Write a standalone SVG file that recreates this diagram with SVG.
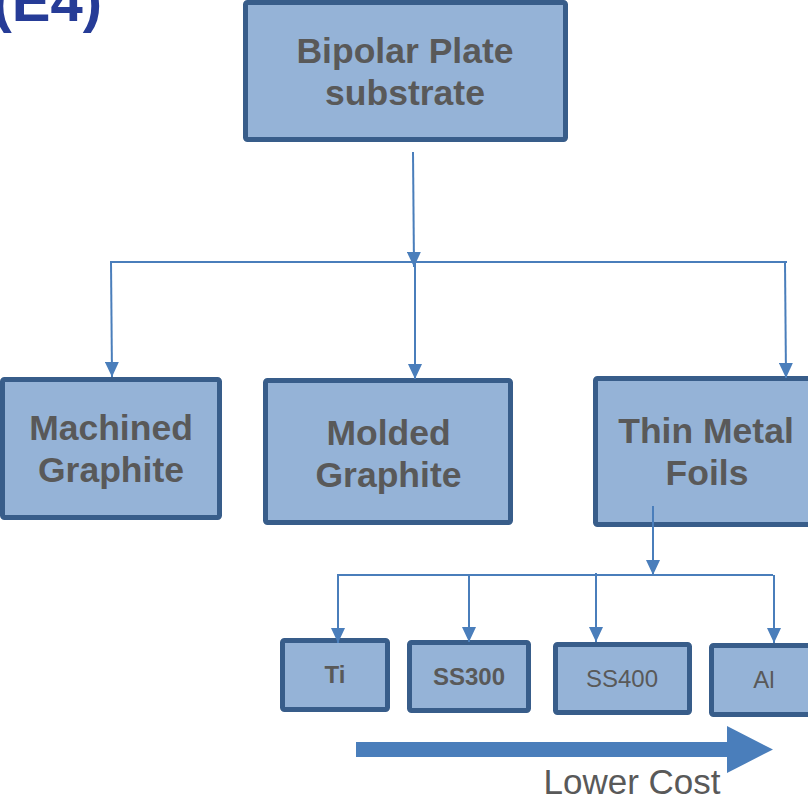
<svg xmlns="http://www.w3.org/2000/svg" width="808" height="800" viewBox="0 0 808 800">
  <style>
    .box { fill: #95B3D7; stroke: #385D8A; stroke-width: 5; }
    .lbl { font-family: "Liberation Sans", Arial, sans-serif; fill: #595959; text-anchor: middle; }
    .big { font-size: 35.5px; font-weight: bold; }
    .sm { font-size: 24px; }
    .b { font-weight: bold; }
    .wire { fill: none; stroke: #4A7EBB; stroke-width: 2; }
    .title { font-family: "Liberation Sans", Arial, sans-serif; font-weight: bold; font-size: 58px; fill: #263C97; text-anchor: end; }
  </style>
  <defs>
    <marker id="tip" viewBox="0 0 15 14" refX="15" refY="7" markerWidth="15" markerHeight="14" markerUnits="userSpaceOnUse" orient="auto">
      <path d="M0,0 L15,7 L0,14 Z" fill="#4A7EBB"/>
    </marker>
  </defs>

  <rect width="808" height="800" fill="#FFFFFF"/>

  <!-- slide heading, mostly above the visible area -->
  <text class="title" x="102" y="21">(E4)</text>

  <g id="node-substrate">
    <rect class="box" x="245.5" y="2.5" width="320" height="137" rx="2"/>
    <text class="lbl big" x="405" y="63">Bipolar Plate</text>
    <text class="lbl big" x="405" y="105">substrate</text>
  </g>

  <g id="node-machined">
    <rect class="box" x="2.5" y="379.5" width="217" height="138" rx="2"/>
    <text class="lbl big" x="111" y="440">Machined</text>
    <text class="lbl big" x="111" y="482">Graphite</text>
  </g>

  <g id="node-molded">
    <rect class="box" x="265.5" y="380.5" width="245" height="142" rx="2"/>
    <text class="lbl big" x="388.5" y="445">Molded</text>
    <text class="lbl big" x="388.5" y="487">Graphite</text>
  </g>

  <g id="node-foils">
    <rect class="box" x="595.5" y="378.5" width="240" height="146" rx="2"/>
    <text class="lbl big" x="706" y="443">Thin Metal</text>
    <text class="lbl big" x="707" y="485">Foils</text>
  </g>

  <g id="node-ti">
    <rect class="box" x="282.5" y="640.5" width="105" height="69" rx="2"/>
    <text class="lbl sm b" x="335" y="683">Ti</text>
  </g>

  <g id="node-ss300">
    <rect class="box" x="409.5" y="642.5" width="119" height="68" rx="2"/>
    <text class="lbl sm b" x="469" y="685">SS300</text>
  </g>

  <g id="node-ss400">
    <rect class="box" x="555.5" y="644.5" width="134" height="68" rx="2"/>
    <text class="lbl sm" x="622" y="687">SS400</text>
  </g>

  <g id="node-al">
    <rect class="box" x="711.5" y="645.5" width="120" height="69" rx="2"/>
    <text class="lbl sm" x="764" y="688">Al</text>
  </g>

  <g id="connectors">
    <!-- substrate to the three plate families -->
    <line class="wire" x1="413" y1="152" x2="414" y2="267" marker-end="url(#tip)"/>
    <line class="wire" x1="110" y1="262" x2="787" y2="262"/>
    <line class="wire" x1="111" y1="262" x2="112" y2="377" marker-end="url(#tip)"/>
    <line class="wire" x1="415" y1="262" x2="415" y2="379" marker-end="url(#tip)"/>
    <line class="wire" x1="785" y1="262" x2="786" y2="378" marker-end="url(#tip)"/>

    <!-- thin metal foils to the alloy options -->
    <line class="wire" x1="653" y1="506" x2="653" y2="575" marker-end="url(#tip)"/>
    <line class="wire" x1="337" y1="575" x2="773" y2="575"/>
    <line class="wire" x1="338" y1="575" x2="338" y2="643" marker-end="url(#tip)"/>
    <line class="wire" x1="469" y1="575" x2="469" y2="642" marker-end="url(#tip)"/>
    <line class="wire" x1="596" y1="573" x2="596" y2="642" marker-end="url(#tip)"/>
    <line class="wire" x1="774" y1="575" x2="774" y2="643" marker-end="url(#tip)"/>
  </g>

  <!-- cost trend arrow -->
  <g id="cost-arrow">
    <path d="M356,742 H727 V726 L773,749.5 L727,773 V757 H356 Z" fill="#4A7EBB"/>
    <text class="lbl" x="632" y="794" font-size="35">Lower Cost</text>
  </g>
</svg>
